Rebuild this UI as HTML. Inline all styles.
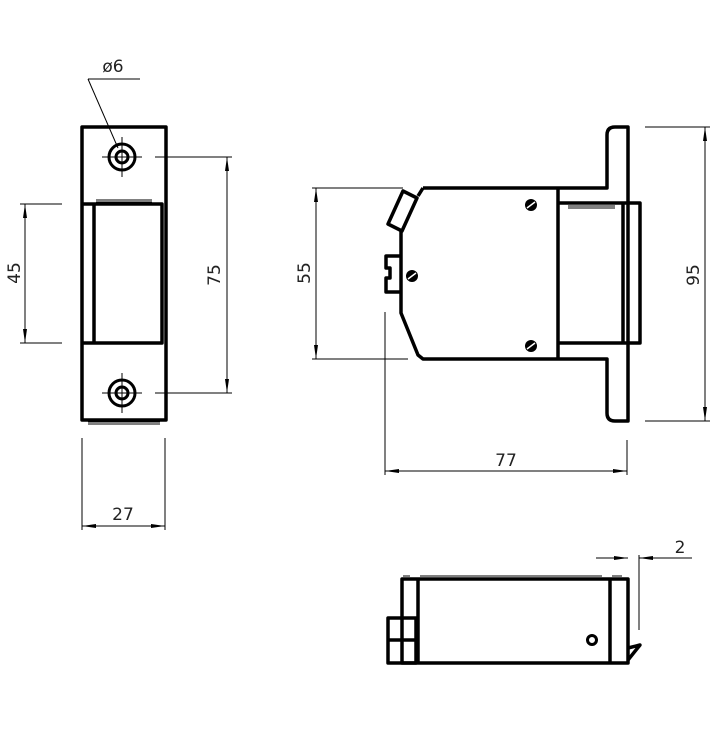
<!DOCTYPE html>
<html><head><meta charset="utf-8"><style>html,body{margin:0;padding:0;background:#fff}svg{display:block}text{font-family:"DejaVu Sans","Liberation Sans",sans-serif;font-size:17px;fill:#222;font-weight:normal}</style></head>
<body>
<svg width="720" height="732" viewBox="0 0 720 732" xmlns="http://www.w3.org/2000/svg">
<defs>
<marker id="a" markerWidth="14" markerHeight="6" refX="14" refY="3" orient="auto" markerUnits="userSpaceOnUse"><path d="M0,1 L14,3 L0,5 Z" fill="#000"/></marker>
</defs>
<g fill="none" stroke="#000" stroke-width="3.5" stroke-linejoin="round">
<rect x="82" y="127" width="84" height="293"/>
<polyline points="82,204 162,204 162,343 82,343"/>
<line x1="94" y1="204" x2="94" y2="343"/>
<circle cx="122" cy="157" r="13" stroke-width="3"/><circle cx="122" cy="157" r="6" stroke-width="3"/>
<circle cx="122" cy="393" r="13" stroke-width="3"/><circle cx="122" cy="393" r="6" stroke-width="3"/>
<path d="M423,188 L607,188 L607,135 Q607,127 615,127 L628,127 L628,421 L615,421 Q607,421 607,413 L607,359 L423,359 L418,355 L401,313 L401,230"/>
<line x1="418" y1="196" x2="423" y2="188"/>
<polygon points="403,191 417,198 402,231 388,224"/>
<polyline points="401,256 386,256 386,268 390,268 390,278 386,278 386,292 401,292"/>
<line x1="558" y1="188" x2="558" y2="359"/>
<polyline points="558,203 640,203 640,343 558,343"/>
<line x1="623" y1="203" x2="623" y2="343"/>
<rect x="402" y="579" width="226" height="84"/>
<line x1="418" y1="579" x2="418" y2="663"/>
<line x1="610" y1="579" x2="610" y2="663"/>
<rect x="388" y="618" width="28" height="45"/>
<line x1="388" y1="640" x2="416" y2="640"/>
<circle cx="592" cy="640" r="4.5" stroke-width="3"/>
<polyline points="628,648 640,645 628,660"/>
</g>
<g fill="#000">
<circle cx="531" cy="205" r="6"/><circle cx="531" cy="346" r="6"/><circle cx="412" cy="276" r="6"/>
</g>
<g stroke="#fff" stroke-width="1.5">
<line x1="527" y1="208" x2="535" y2="202"/><line x1="527" y1="349" x2="535" y2="343"/><line x1="408" y1="279" x2="416" y2="273"/>
</g>
<g stroke="#000" stroke-width="1" fill="none">
<line x1="96" y1="200" x2="152" y2="200"/><line x1="96" y1="202" x2="152" y2="202"/>
<line x1="88" y1="422" x2="160" y2="422"/><line x1="88" y1="424" x2="160" y2="424"/>
<line x1="568" y1="206" x2="615" y2="206"/><line x1="568" y1="208" x2="615" y2="208"/>
<line x1="420" y1="576" x2="602" y2="576"/><line x1="420" y1="578" x2="602" y2="578"/>
<line x1="403" y1="576" x2="410" y2="576"/><line x1="612" y1="576" x2="622" y2="576"/>
<line x1="102" y1="157" x2="142" y2="157"/><line x1="122" y1="137" x2="122" y2="177"/>
<line x1="102" y1="393" x2="142" y2="393"/><line x1="122" y1="373" x2="122" y2="413"/>
<line x1="88" y1="79" x2="140" y2="79"/><line x1="88" y1="79" x2="118" y2="148"/>
<line x1="20" y1="204" x2="62" y2="204"/><line x1="20" y1="343" x2="62" y2="343"/>
<line x1="25" y1="273" x2="25" y2="204" marker-end="url(#a)"/><line x1="25" y1="273" x2="25" y2="343" marker-end="url(#a)"/>
<line x1="155" y1="157" x2="232" y2="157"/><line x1="155" y1="393" x2="232" y2="393"/>
<line x1="227" y1="275" x2="227" y2="157" marker-end="url(#a)"/><line x1="227" y1="275" x2="227" y2="393" marker-end="url(#a)"/>
<line x1="82" y1="438" x2="82" y2="530"/><line x1="165" y1="438" x2="165" y2="530"/>
<line x1="123" y1="526" x2="82" y2="526" marker-end="url(#a)"/><line x1="123" y1="526" x2="165" y2="526" marker-end="url(#a)"/>
<line x1="312" y1="188" x2="403" y2="188"/><line x1="312" y1="359" x2="408" y2="359"/>
<line x1="316" y1="273" x2="316" y2="188" marker-end="url(#a)"/><line x1="316" y1="273" x2="316" y2="359" marker-end="url(#a)"/>
<line x1="645" y1="127" x2="710" y2="127"/><line x1="645" y1="421" x2="710" y2="421"/>
<line x1="705" y1="275" x2="705" y2="127" marker-end="url(#a)"/><line x1="705" y1="275" x2="705" y2="421" marker-end="url(#a)"/>
<line x1="385" y1="312" x2="385" y2="475"/><line x1="627" y1="440" x2="627" y2="475"/>
<line x1="506" y1="471" x2="385" y2="471" marker-end="url(#a)"/><line x1="506" y1="471" x2="627" y2="471" marker-end="url(#a)"/>
<line x1="639" y1="555" x2="639" y2="630"/>
<line x1="596" y1="558" x2="628" y2="558" marker-end="url(#a)"/><line x1="692" y1="558" x2="639" y2="558" marker-end="url(#a)"/>
</g>
<text x="113" y="72" text-anchor="middle">ø6</text>
<text transform="translate(20,273) rotate(-90)" text-anchor="middle">45</text>
<text transform="translate(220,275) rotate(-90)" text-anchor="middle">75</text>
<text x="123" y="520" text-anchor="middle">27</text>
<text transform="translate(310,273) rotate(-90)" text-anchor="middle">55</text>
<text transform="translate(699,275) rotate(-90)" text-anchor="middle">95</text>
<text x="506" y="466" text-anchor="middle">77</text>
<text x="680" y="553" text-anchor="middle">2</text>
</svg>
</body></html>
